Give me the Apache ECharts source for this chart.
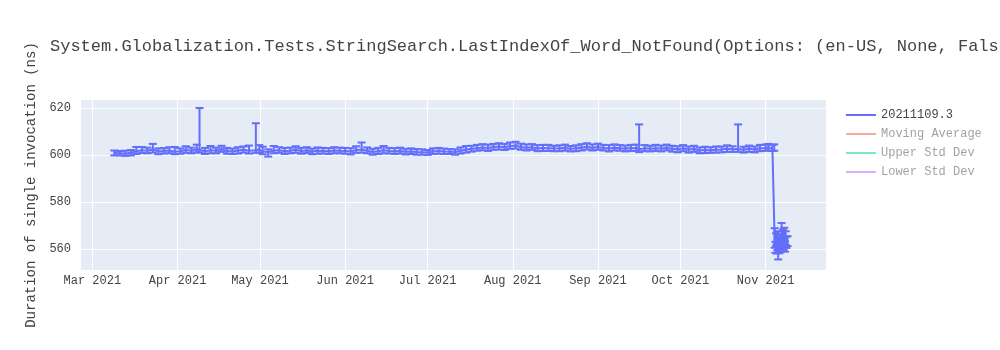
<!DOCTYPE html>
<html>
<head>
<meta charset="utf-8">
<script src="https://cdn.jsdelivr.net/npm/echarts@6/dist/echarts.min.js"></script>
<style>
html,body{margin:0;padding:0;background:#fff;}
#chart{width:1000px;height:350px;}
</style>
</head>
<body>
<div id="chart"></div>
<script>
const titleText = 'System.Globalization.Tests.StringSearch.LastIndexOf_Word_NotFound(Options: (en-US, None, False))';
const yAxisTitle = 'Duration of single invocation (ns)';
const seriesNames = ['20211109.3', 'Moving Average', 'Upper Std Dev', 'Lower Std Dev'];
const monthNames = ['Jan','Feb','Mar','Apr','May','Jun','Jul','Aug','Sep','Oct','Nov','Dec'];
const yTicks = [560, 580, 600, 620];

const dates = [
'2021-03-09','2021-03-11','2021-03-13','2021-03-15','2021-03-17','2021-03-19','2021-03-21','2021-03-23','2021-03-25','2021-03-27','2021-03-29','2021-03-31',
'2021-04-02','2021-04-04','2021-04-06','2021-04-08','2021-04-09','2021-04-11','2021-04-13','2021-04-15','2021-04-17','2021-04-19','2021-04-21','2021-04-23','2021-04-25','2021-04-27','2021-04-29 12:00','2021-04-30 18:00',
'2021-05-02','2021-05-04','2021-05-06','2021-05-08','2021-05-10','2021-05-12','2021-05-14','2021-05-16','2021-05-18','2021-05-20','2021-05-22','2021-05-24','2021-05-26','2021-05-28','2021-05-30',
'2021-06-01','2021-06-03','2021-06-05','2021-06-07','2021-06-09','2021-06-11','2021-06-13','2021-06-15','2021-06-17','2021-06-19','2021-06-21','2021-06-23','2021-06-25','2021-06-27','2021-06-29',
'2021-07-01','2021-07-03','2021-07-05','2021-07-07','2021-07-09','2021-07-11','2021-07-13','2021-07-15','2021-07-17','2021-07-19','2021-07-21','2021-07-23','2021-07-25','2021-07-27','2021-07-29','2021-07-31',
'2021-08-02','2021-08-04','2021-08-06','2021-08-08','2021-08-10','2021-08-12','2021-08-14','2021-08-16','2021-08-18','2021-08-20','2021-08-22','2021-08-24','2021-08-26','2021-08-28','2021-08-30',
'2021-09-01','2021-09-03','2021-09-05','2021-09-07','2021-09-09','2021-09-11','2021-09-13','2021-09-15','2021-09-16','2021-09-18','2021-09-20','2021-09-22','2021-09-24','2021-09-26','2021-09-28','2021-09-30',
'2021-10-02','2021-10-04','2021-10-06','2021-10-08','2021-10-10','2021-10-12','2021-10-14','2021-10-16','2021-10-18','2021-10-20','2021-10-22','2021-10-24','2021-10-26','2021-10-28','2021-10-30',
'2021-11-01','2021-11-02','2021-11-03 12:00','2021-11-04 04:00',
'2021-11-04 08:00','2021-11-04 14:00','2021-11-04 20:00','2021-11-05 02:00','2021-11-05 08:00','2021-11-05 14:00','2021-11-05 20:00','2021-11-06 02:00','2021-11-06 08:00','2021-11-06 14:00',
'2021-11-06 20:00','2021-11-07 02:00','2021-11-07 08:00','2021-11-07 14:00','2021-11-07 20:00','2021-11-08 02:00','2021-11-08 08:00','2021-11-08 14:00','2021-11-09 00:00'
];

const values = [
600.8,600.7,600.6,600.9,601.6,602.0,601.8,602.3,601.5,601.7,601.9,601.4,
601.6,602.1,601.8,602.4,602.2,601.6,602.0,601.8,602.5,601.7,601.5,601.9,602.2,601.8,602.0,602.3,
601.5,601.2,601.9,602.0,601.6,601.8,602.2,601.7,601.9,601.5,601.8,601.7,601.6,601.9,601.8,
601.7,601.5,602.1,602.3,601.8,601.3,601.6,602.0,601.7,601.6,601.7,601.4,601.5,601.3,601.2,
601.0,601.5,601.7,601.5,601.4,601.2,601.8,602.3,602.6,602.9,603.2,603.0,603.4,603.6,603.3,603.8,
604.0,603.4,603.1,603.3,602.8,603.0,602.9,602.7,602.8,603.0,602.6,602.8,603.2,603.5,603.1,
603.4,603.0,602.8,603.1,602.9,602.7,602.9,603.0,602.4,602.8,602.6,602.9,602.7,603.0,602.6,602.4,
602.8,602.3,602.5,601.9,602.1,602.0,602.2,602.3,602.6,602.4,602.5,602.2,602.6,602.3,602.8,
603.0,603.2,602.9,603.1,
562.5,560.5,563.8,559.8,561.5,558.5,562.0,560.2,563.0,561.0,
564.5,562.3,565.0,561.8,563.5,560.8,564.0,562.6,563.2
];

const errMinus = [
1.0,0.9,1.0,1.1,1.2,1.2,1.1,1.3,1.2,1.1,1.2,1.1,
1.1,1.2,1.1,1.3,1.2,1.2,1.3,1.1,1.2,1.2,1.1,1.3,1.2,1.2,1.1,1.3,
1.2,1.9,1.2,1.1,1.2,1.1,1.3,1.2,1.1,1.2,1.3,1.1,1.2,1.2,1.1,
1.2,1.3,1.2,1.3,1.1,1.2,1.2,1.3,1.1,1.2,1.1,1.2,1.1,1.2,1.1,
1.0,1.1,1.2,1.1,1.0,1.1,1.2,1.3,1.2,1.1,1.2,1.3,1.2,1.3,1.2,1.2,
1.3,1.2,1.2,1.1,1.2,1.3,1.2,1.1,1.2,1.2,1.1,1.2,1.3,1.2,1.2,
1.2,1.1,1.3,1.2,1.1,1.2,1.2,1.3,1.2,1.2,1.1,1.2,1.2,1.1,1.2,1.3,
1.2,1.3,1.2,1.2,1.3,1.1,1.2,1.2,1.3,1.1,1.2,1.2,1.3,1.2,1.2,
1.2,1.3,1.2,1.3,
2.0,2.2,2.5,1.8,2.0,3.0,2.2,2.0,2.4,2.1,
2.6,2.0,2.4,2.2,2.1,2.0,2.3,2.2,2.0
];

const errPlus = [
1.1,1.0,1.2,1.2,1.8,1.4,1.3,2.4,1.3,1.2,1.4,2.0,
1.2,1.6,1.3,2.0,17.8,1.4,1.8,1.3,1.4,1.3,1.2,1.4,1.4,2.2,11.5,1.9,
2.0,1.2,1.9,1.3,1.4,1.3,1.5,1.3,1.4,1.2,1.4,1.3,1.3,1.4,1.3,
1.3,1.4,1.6,3.0,1.4,1.3,1.4,1.8,1.3,1.3,1.4,1.2,1.3,1.2,1.2,
1.1,1.3,1.3,1.2,1.1,1.2,1.4,1.5,1.3,1.4,1.4,1.4,1.3,1.4,1.4,1.5,
1.6,1.4,1.4,1.3,1.4,1.3,1.4,1.2,1.3,1.4,1.2,1.3,1.4,1.5,1.4,
1.4,1.3,1.4,1.4,1.3,1.3,1.4,1.4,10.6,1.4,1.3,1.4,1.3,1.4,1.3,1.3,
1.4,1.3,1.4,1.3,1.4,1.3,1.4,1.3,1.5,1.3,10.5,1.3,1.4,1.3,1.5,
1.4,1.5,1.4,1.4,
6.3,2.5,2.8,2.2,6.0,2.4,2.6,2.3,3.0,2.2,
6.5,2.8,3.2,2.5,5.5,2.4,3.5,2.6,2.2
];

const pts = dates.map((d, i) => [d, values[i]]);
const errData = dates.map((d, i) => [d, values[i], values[i] - errMinus[i], values[i] + errPlus[i]]);

const FONT = '"Liberation Mono", "Courier New", monospace';
const chart = echarts.init(document.getElementById('chart'), null, {renderer: 'canvas'});

const faded = c => ({
  name: c.name,
  icon: 'rect',
  itemStyle: {color: c.color, opacity: 0.5},
  textStyle: {color: 'rgba(68,68,68,0.5)'}
});

chart.setOption({
  animation: false,
  backgroundColor: '#fff',
  title: {
    text: titleText,
    left: 45,
    top: 33,
    textStyle: {fontFamily: FONT, fontSize: 17, fontWeight: 'normal', color: '#444'}
  },
  legend: {
    orient: 'vertical',
    left: 841,
    top: 104,
    itemWidth: 30,
    itemHeight: 2,
    itemGap: 7,
    textStyle: {fontFamily: FONT, fontSize: 12, color: '#444'},
    data: [
      {name: seriesNames[0], icon: 'rect', itemStyle: {color: '#636efa'}},
      faded({name: seriesNames[1], color: '#EF553B'}),
      faded({name: seriesNames[2], color: '#00cc96'}),
      faded({name: seriesNames[3], color: '#ab63fa'})
    ]
  },
  grid: {
    left: 80, right: 174, top: 100, bottom: 80,
    show: true, backgroundColor: '#E5ECF6', borderWidth: 0
  },
  xAxis: {
    type: 'time',
    min: '2021-02-24 12:00',
    max: '2021-11-23',
    splitNumber: 9,
    minInterval: 28 * 86400000,
    maxInterval: 31 * 86400000,
    axisLine: {show: false},
    axisTick: {show: false},
    splitLine: {show: true, lineStyle: {color: '#fff', width: 1}},
    axisLabel: {
      fontFamily: FONT, fontSize: 12, color: '#444', margin: 5,
      showMinLabel: false, showMaxLabel: false,
      formatter: v => { const d = new Date(v); return monthNames[d.getMonth()] + ' ' + d.getFullYear(); }
    }
  },
  yAxis: {
    type: 'value',
    min: 551,
    max: 623.4,
    splitNumber: 3,
    name: yAxisTitle,
    nameLocation: 'middle',
    nameGap: 41,
    nameTextStyle: {fontFamily: FONT, fontSize: 14, color: '#444'},
    axisLine: {show: false},
    axisTick: {show: false},
    splitLine: {show: true, showMinLine: false, showMaxLine: false, lineStyle: {color: '#fff', width: 1}},
    axisLabel: {
      fontFamily: FONT, fontSize: 12, color: '#444', margin: 9,
      showMinLabel: false, showMaxLabel: false,
      formatter: v => (yTicks.indexOf(v) >= 0 ? String(v) : '')
    }
  },
  series: [
    {
      name: seriesNames[0],
      type: 'line',
      data: pts,
      showSymbol: false,
      color: '#636efa',
      lineStyle: {width: 2, color: '#636efa'},
      z: 3
    },
    {
      name: seriesNames[0] + ' error',
      type: 'custom',
      data: errData,
      encode: {x: 0, y: [1, 2, 3]},
      renderItem: (params, api) => {
        const x = api.value(0);
        const lo = api.coord([x, api.value(2)]);
        const hi = api.coord([x, api.value(3)]);
        const st = {stroke: '#636efa', lineWidth: 2};
        const w = 4;
        return {
          type: 'group',
          children: [
            {type: 'line', shape: {x1: lo[0], y1: lo[1], x2: hi[0], y2: hi[1]}, style: st},
            {type: 'line', shape: {x1: lo[0] - w, y1: lo[1], x2: lo[0] + w, y2: lo[1]}, style: st},
            {type: 'line', shape: {x1: hi[0] - w, y1: hi[1], x2: hi[0] + w, y2: hi[1]}, style: st}
          ]
        };
      },
      z: 2
    },
    {name: seriesNames[1], type: 'line', data: [], color: '#EF553B'},
    {name: seriesNames[2], type: 'line', data: [], color: '#00cc96'},
    {name: seriesNames[3], type: 'line', data: [], color: '#ab63fa'}
  ]
});
</script>
</body>
</html>
